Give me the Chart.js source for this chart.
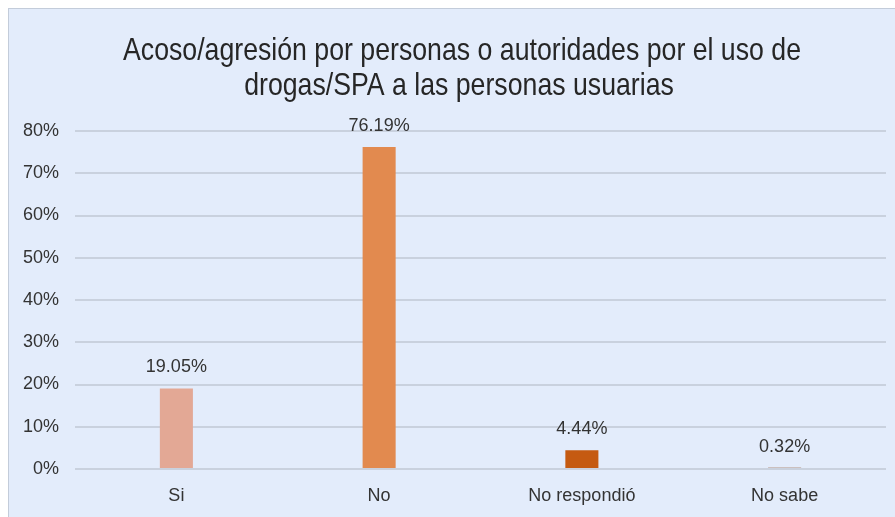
<!DOCTYPE html>
<html>
<head>
<meta charset="utf-8">
<script src="https://cdn.jsdelivr.net/npm/chart.js@4/dist/chart.umd.min.js"></script>
<style>
  html, body { margin: 0; padding: 0; background: #ffffff; }
  #box { position: absolute; left: 8px; top: 8px; width: 886px; height: 508px;
         background: #E3ECFB; border-left: 1px solid #C3CCDA; border-top: 1px solid #C3CCDA; }
  canvas { display: block; }
</style>
</head>
<body>
<div id="box"><canvas id="c" width="886" height="508"></canvas></div>
<script>
const titleLines = ["Acoso/agresión por personas o autoridades por el uso de", "drogas/SPA a las personas usuarias"];
const categories = ["Si", "No", "No respondió", "No sabe"];
const values = [19.05, 76.19, 4.44, 0.32];
const valueLabels = ["19.05%", "76.19%", "4.44%", "0.32%"];
const barColors = ["#E3A895", "#E28A4F", "#C55A11", "#843C0C"];
const yTicks = [0, 10, 20, 30, 40, 50, 60, 70, 80];

const titlePlugin = {
  id: 'titleDraw',
  afterDraw(chart) {
    const ctx = chart.ctx;
    ctx.save();
    ctx.fillStyle = '#262626';
    ctx.font = '32px "Liberation Sans", Arial, sans-serif';
    ctx.textBaseline = 'middle';
    ctx.textAlign = 'center';
    const w1 = ctx.measureText(titleLines[0]).width;
    const sx = 678 / w1;
    ctx.translate(453, 0);
    ctx.scale(sx, 1);
    ctx.fillText(titleLines[0], 0, 42);
    ctx.fillText(titleLines[1], -3 / sx, 77);
    ctx.restore();
  }
};

const labelPlugin = {
  id: 'valueLabels',
  afterDatasetsDraw(chart) {
    const ctx = chart.ctx;
    const meta = chart.getDatasetMeta(0);
    ctx.save();
    ctx.fillStyle = '#333333';
    ctx.font = '18px "Liberation Sans", Arial, sans-serif';
    ctx.textAlign = 'center';
    ctx.textBaseline = 'bottom';
    meta.data.forEach((bar, i) => {
      ctx.fillText(valueLabels[i], bar.x, bar.y - 12);
    });
    ctx.restore();
  }
};

new Chart(document.getElementById('c'), {
  type: 'bar',
  data: {
    labels: categories,
    datasets: [{
      data: values,
      backgroundColor: barColors,
      borderWidth: 0,
      categoryPercentage: 1,
      barPercentage: 0.163
    }]
  },
  options: {
    responsive: false,
    animation: false,
    layout: { padding: { top: 122, right: 9, bottom: 0, left: 0 } },
    plugins: { legend: { display: false }, title: { display: false }, tooltip: { enabled: false } },
    scales: {
      x: {
        grid: { display: false },
        border: { display: false },
        ticks: { color: '#333333', font: { family: '"Liberation Sans", Arial, sans-serif', size: 18 }, padding: 8, maxRotation: 0 },
        afterFit(scale) { scale.height = 48; }
      },
      y: {
        min: 0, max: 80,
        afterBuildTicks(scale) { scale.ticks = yTicks.map(v => ({ value: v })); },
        grid: { color: '#C9D1DE', lineWidth: 2, drawTicks: false },
        border: { display: false },
        ticks: { color: '#333333', font: { family: '"Liberation Sans", Arial, sans-serif', size: 18 }, padding: 16,
                 callback: v => v + '%' },
        afterFit(scale) { scale.width = 66; }
      }
    }
  },
  plugins: [titlePlugin, labelPlugin]
});
</script>
</body>
</html>
